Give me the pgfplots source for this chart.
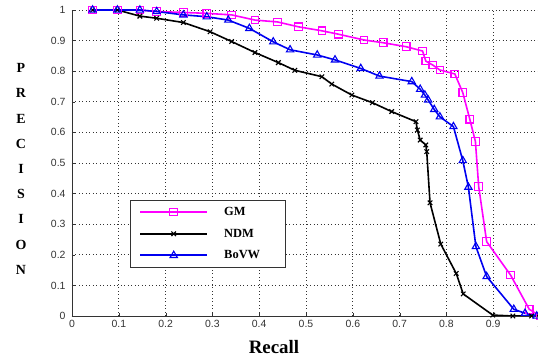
\documentclass[border=0pt]{standalone}
\usepackage{fontspec}
\setmainfont{Liberation Serif}
\setsansfont{Liberation Sans}
\usepackage{pgfplots}
\pgfplotsset{compat=1.18}
\definecolor{gmcol}{RGB}{255,0,255}
\definecolor{bovwcol}{RGB}{0,0,240}
\begin{document}
\begin{tikzpicture}
\begin{axis}[
  at={(0,0)}, anchor=origin,
  scale only axis, width=468bp, height=306bp,
  xmin=0, xmax=1, ymin=0, ymax=1,
  xtick={0,0.1,0.2,0.3,0.4,0.5,0.6,0.7,0.8,0.9,1},
  ytick={0,0.1,0.2,0.3,0.4,0.5,0.6,0.7,0.8,0.9,1},
  axis x line*=bottom, axis y line*=left,
  axis line style={line width=0.8bp, black!80},
  grid=major,
  major grid style={dash pattern=on 0.9bp off 2.6bp, black!80, line width=0.7bp},
  tick align=inside, major tick length=3bp,
  tick style={black!80},
  /pgf/number format/assume math mode=true,
  tick label style={font=\sffamily\fontsize{10.5}{11}\selectfont, text=black!80},
  xticklabel style={yshift=-1bp},
  yticklabel style={xshift=-3bp},
  legend style={at={(0.124,0.379)}, anchor=north west,
    font=\bfseries\fontsize{12.5}{13}\selectfont,
    draw=black!80,
    inner xsep=9bp, inner ysep=5bp, row sep=8bp, column sep=14bp},
  legend cell align=left,
  legend image code/.code={%
    \draw[mark repeat=2,mark phase=2,line width=2bp,#1] plot coordinates {(0bp,0bp) (33.5bp,0bp) (67bp,0bp)};},
]
\addplot[color=gmcol, line width=1.6bp, mark=square, mark size=3.8bp, mark options={solid, line width=1.1bp}] coordinates {
(0.044,1.0)(0.097,1.0)(0.145,1.0)(0.181,0.995)(0.238,0.992)(0.288,0.989)(0.341,0.984)
(0.391,0.967)(0.439,0.961)(0.484,0.945)(0.534,0.932)(0.569,0.921)(0.624,0.902)(0.665,0.893)
(0.714,0.880)(0.749,0.866)(0.756,0.833)(0.771,0.820)(0.786,0.804)(0.818,0.791)(0.835,0.730)
(0.850,0.643)(0.862,0.570)(0.869,0.423)(0.886,0.243)(0.937,0.134)(0.977,0.022)(1.0,0.0)};
\addlegendentry{GM}
\addplot[color=black, line width=1.6bp, mark=x, mark size=3.2bp, mark options={solid, line width=1.1bp}] coordinates {
(0.044,1.0)(0.097,1.0)(0.145,0.980)(0.181,0.973)(0.238,0.959)(0.295,0.929)(0.341,0.897)
(0.391,0.861)(0.441,0.828)(0.476,0.803)(0.534,0.782)(0.555,0.758)(0.598,0.722)(0.642,0.697)
(0.683,0.668)(0.735,0.635)(0.738,0.608)(0.744,0.575)(0.756,0.559)(0.758,0.537)(0.765,0.370)
(0.788,0.235)(0.821,0.139)(0.836,0.072)(0.899,0.003)(0.942,0.0)(0.982,0.0)(1.0,0.0)};
\addlegendentry{NDM}
\addplot[color=bovwcol, line width=1.6bp, mark=triangle, mark size=4.2bp, mark options={solid, line width=1.1bp}] coordinates {
(0.044,1.0)(0.097,1.0)(0.145,1.0)(0.181,0.995)(0.238,0.984)(0.288,0.978)(0.334,0.967)
(0.379,0.940)(0.430,0.896)(0.466,0.870)(0.524,0.853)(0.562,0.837)(0.617,0.809)(0.657,0.784)
(0.726,0.766)(0.744,0.741)(0.754,0.722)(0.761,0.706)(0.774,0.675)(0.786,0.651)(0.815,0.619)
(0.835,0.508)(0.847,0.421)(0.863,0.227)(0.886,0.129)(0.944,0.022)(0.968,0.009)(0.993,0.0)};
\addlegendentry{\makebox[50bp][l]{BoVW}}
\end{axis}
\node[font=\bfseries\fontsize{14}{25.3}\selectfont, align=center] at (-51bp,147bp) {P\\R\\E\\C\\I\\S\\I\\O\\N};
\node[font=\bfseries\fontsize{19}{21}\selectfont] at (202bp,-31bp) {Recall};
\pgfresetboundingbox
\useasboundingbox (-72bp,-44bp) rectangle (466bp,316bp);
\end{tikzpicture}
\end{document}
